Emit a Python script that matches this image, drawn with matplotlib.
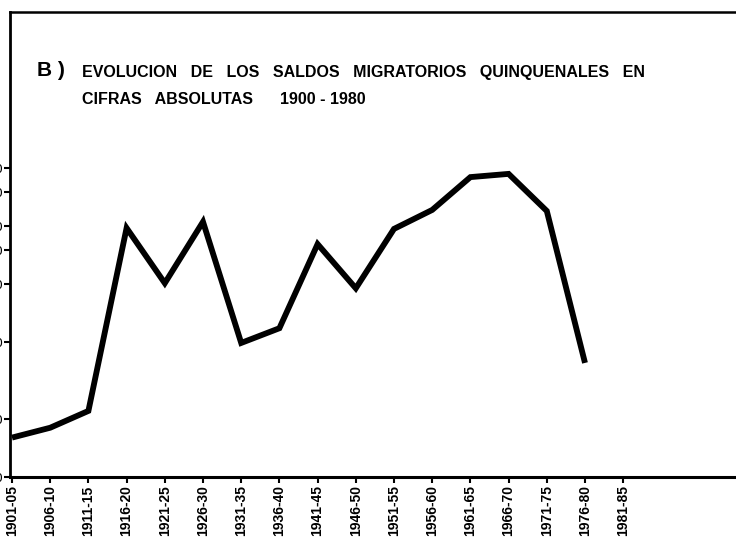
import matplotlib
matplotlib.use("Agg")
import matplotlib.pyplot as plt
from matplotlib.ticker import FixedLocator, NullLocator, FixedFormatter

periods = ["1901-05", "1906-10", "1911-15", "1916-20", "1921-25", "1926-30",
           "1931-35", "1936-40", "1941-45", "1946-50", "1951-55", "1956-60",
           "1961-65", "1966-70", "1971-75", "1976-80", "1981-85"]
saldos = [1600, 1800, 2200, 19500, 10100, 21000, 4950, 5900, 16100, 9500,
          19300, 24200, 35800, 37200, 23900, 3900]
y_ticks = [1000, 2000, 5000, 10000, 15000, 20000, 30000, 40000]
y_tick_labels = ["1000", "2000", "5000", "10000", "15000", "20000", "30000", "40000"]

title_b = "B )"
title_l1 = "EVOLUCION   DE   LOS   SALDOS   MIGRATORIOS   QUINQUENALES   EN"
title_l2 = "CIFRAS   ABSOLUTAS      1900 - 1980"

W, H = 736, 538
fig = plt.figure(figsize=(W / 100, H / 100), dpi=100)
fig.patch.set_facecolor("white")

left_px, right_px, top_px, bottom_px = 10, 750, 12, 477
ax = fig.add_axes([left_px / W, (H - bottom_px) / H,
                   (right_px - left_px) / W, (bottom_px - top_px) / H])

xs = list(range(len(saldos)))
ax.plot(xs, saldos, color="black", linewidth=4.2, solid_joinstyle="miter",
        solid_capstyle="butt")

ax.set_yscale("log")
ax.set_ylim(1000, 1000 * 10 ** ((bottom_px - top_px) / 193))
spacing = 38.2
x0 = -(12 - left_px) / spacing
ax.set_xlim(x0, x0 + (right_px - left_px) / spacing)

ax.yaxis.set_major_locator(FixedLocator(y_ticks))
ax.yaxis.set_major_formatter(FixedFormatter(y_tick_labels))
ax.yaxis.set_minor_locator(NullLocator())
ax.set_xticks(range(len(periods)))
ax.set_xticklabels(periods, rotation=90, fontsize=10, fontweight="bold",
                   family="Liberation Sans")
ax.tick_params(axis="y", direction="out", length=4, width=1.5, pad=1,
               labelsize=9)
ax.tick_params(axis="x", direction="out", length=4, width=1.5, pad=2)

for side, lw in [("left", 2.0), ("bottom", 2.2), ("top", 1.8), ("right", 1.8)]:
    ax.spines[side].set_linewidth(lw)
    ax.spines[side].set_color("black")

fig.text(37 / W, 1 - 70 / H, title_b, fontsize=15, fontweight="bold",
         family="Liberation Sans", va="center", ha="left")
fig.text(82 / W, 1 - 72 / H, title_l1, fontsize=11.5, fontweight="bold",
         family="Liberation Sans", va="center", ha="left")
fig.text(82 / W, 1 - 99 / H, title_l2, fontsize=11.5, fontweight="bold",
         family="Liberation Sans", va="center", ha="left")

fig.savefig("out.png", dpi=100)
